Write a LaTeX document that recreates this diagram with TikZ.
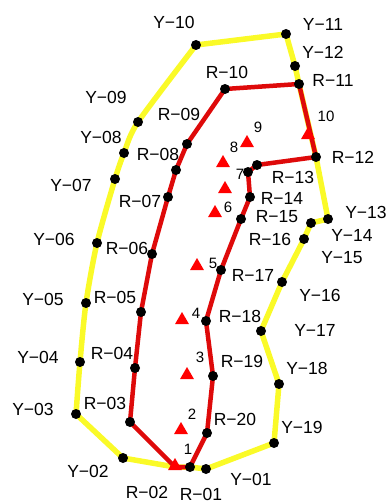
\documentclass[tikz,border=0pt]{standalone}
\usepackage{fontspec}
\setmainfont{Liberation Sans}
\usetikzlibrary{shapes.geometric}
\definecolor{routered}{RGB}{222,10,10}
\definecolor{routeyellow}{RGB}{250,250,40}
\begin{document}
\begin{tikzpicture}[x=1pt,y=-1pt,
  yline/.style={routeyellow, line width=5.5pt, line join=round},
  rline/.style={routered, line width=4.5pt, line join=round},
  dot/.style={circle, fill=black, inner sep=0pt, minimum size=10pt},
  tri/.style={regular polygon, regular polygon sides=3, fill=red, inner sep=0pt, minimum size=16pt},
  lbl/.style={inner sep=0pt, font=\fontsize{17.5}{18}\selectfont},
  num/.style={inner sep=0pt, font=\fontsize{15}{16}\selectfont}]
  \useasboundingbox (0,0) rectangle (389,503);
  % points of the yellow line
  \coordinate (y01) at (206,469);
  \coordinate (y02) at (123,458);
  \coordinate (y03) at (76,414);
  \coordinate (y04) at (80,362);
  \coordinate (y05) at (86,303);
  \coordinate (y06) at (97,243);
  \coordinate (y07) at (115,179);
  \coordinate (y08) at (124,153);
  \coordinate (y09) at (138,122);
  \coordinate (y10) at (196,45);
  \coordinate (y11) at (286,34);
  \coordinate (y12) at (295,66);
  \coordinate (y13) at (328,219);
  \coordinate (y14) at (311,223);
  \coordinate (y15) at (304,239);
  \coordinate (y16) at (282,282);
  \coordinate (y17) at (261,331);
  \coordinate (y18) at (279,384);
  \coordinate (y19) at (274,443);
  % points of the red line
  \coordinate (r01) at (190,467);
  \coordinate (r02) at (175,467);
  \coordinate (r03) at (130,422);
  \coordinate (r04) at (135,368);
  \coordinate (r05) at (141,312);
  \coordinate (r06) at (152,254);
  \coordinate (r07) at (168,197);
  \coordinate (r08) at (176,170);
  \coordinate (r09) at (187,144);
  \coordinate (r10) at (225,89);
  \coordinate (r11) at (299,84);
  \coordinate (r12) at (316,157);
  \coordinate (r13) at (257,165);
  \coordinate (r13b) at (248,172);
  \coordinate (r14) at (250,197);
  \coordinate (r15) at (241,219);
  \coordinate (r17) at (221,270);
  \coordinate (r18) at (206,321);
  \coordinate (r19) at (213,376);
  \coordinate (r20) at (207,433);

  \draw [yline] (y01) -- (y19) -- (y18) -- (y17) -- (y16) -- (y15) -- (y14) -- (y13)
    -- (r12) -- (r11) -- (y12) -- (y11)
    -- plot [smooth, tension=0.45] coordinates {(y10) (y09) (y08) (y07) (y06) (y05) (y04) (y03)}
    -- (y02) -- (r02) -- (r01) -- cycle;
  \draw [rline] (r01) -- (r20) -- (r19) -- (r18) -- (r17) -- (r15) -- (r14) -- (r13b)
    -- (r13) -- (r12) -- (r11) -- (r10) -- (r09) -- (r08) -- (r07) -- (r06) -- (r05)
    -- (r04) -- (r03) -- (r02) -- cycle;

  \foreach \p in {y01,y02,y03,y04,y05,y06,y07,y08,y09,y10,y11,y12,y13,y14,y15,y16,y17,y18,y19,
    r01,r03,r04,r05,r06,r07,r08,r09,r10,r11,r12,r13,r13b,r14,r15,r17,r18,r19,r20}
    \node [dot] at (\p) {};

  % stations
  \node [tri] (t1) at (175,466) {};
  \node [tri] (t2) at (181,430) {};
  \node [tri] (t3) at (187,375) {};
  \node [tri] (t4) at (182,320) {};
  \node [tri] (t5) at (197,266) {};
  \node [tri] (t6) at (215,213) {};
  \node [tri] (t7) at (225,189) {};
  \node [tri] (t8) at (223,163) {};
  \node [tri] (t9) at (247,143) {};
  \node [tri] (t10) at (308,135) {};
  \node [num] (n1) at (188,449) {1};
  \node [num] (n2) at (192,414) {2};
  \node [num] (n3) at (200,357) {3};
  \node [num] (n4) at (196,313) {4};
  \node [num] (n5) at (213,263) {5};
  \node [num] (n6) at (228,207) {6};
  \node [num] (n7) at (240,174) {7};
  \node [num] (n8) at (234,147) {8};
  \node [num] (n9) at (258,127) {9};
  \node [num] (n10) at (326,116) {10};

  % labels
  \node [lbl] (ly01) at (251,479) {Y−01};
  \node [lbl] (ly02) at (88,471) {Y−02};
  \node [lbl] (ly03) at (33,409) {Y−03};
  \node [lbl] (ly04) at (38,357) {Y−04};
  \node [lbl] (ly05) at (43,299) {Y−05};
  \node [lbl] (ly06) at (54,239) {Y−06};
  \node [lbl] (ly07) at (71,185) {Y−07};
  \node [lbl] (ly08) at (101,137) {Y−08};
  \node [lbl] (ly09) at (106,97) {Y−09};
  \node [lbl] (ly10) at (174,22) {Y−10};
  \node [lbl] (ly11) at (323,24) {Y−11};
  \node [lbl] (ly12) at (323,52) {Y−12};
  \node [lbl] (ly13) at (366,212) {Y−13};
  \node [lbl] (ly14) at (352,235) {Y−14};
  \node [lbl] (ly15) at (342,258) {Y−15};
  \node [lbl] (ly16) at (320,295) {Y−16};
  \node [lbl] (ly17) at (315,330) {Y−17};
  \node [lbl] (ly18) at (307,368) {Y−18};
  \node [lbl] (ly19) at (302,427) {Y−19};
  \node [lbl] (lr01) at (201,494) {R−01};
  \node [lbl] (lr02) at (147,492) {R−02};
  \node [lbl] (lr03) at (105,403) {R−03};
  \node [lbl] (lr04) at (112,353) {R−04};
  \node [lbl] (lr05) at (115,297) {R−05};
  \node [lbl] (lr06) at (127,248) {R−06};
  \node [lbl] (lr07) at (140,201) {R−07};
  \node [lbl] (lr08) at (158,154) {R−08};
  \node [lbl] (lr09) at (179,114) {R−09};
  \node [lbl] (lr10) at (227,72) {R−10};
  \node [lbl] (lr11) at (333,80) {R−11};
  \node [lbl] (lr12) at (353,157) {R−12};
  \node [lbl] (lr13) at (293,177) {R−13};
  \node [lbl] (lr14) at (282,198) {R−14};
  \node [lbl] (lr15) at (277,217) {R−15};
  \node [lbl] (lr16) at (270,239) {R−16};
  \node [lbl] (lr17) at (253,275) {R−17};
  \node [lbl] (lr18) at (240,316) {R−18};
  \node [lbl] (lr19) at (242,361) {R−19};
  \node [lbl] (lr20) at (235,419) {R−20};
\end{tikzpicture}
\end{document}
